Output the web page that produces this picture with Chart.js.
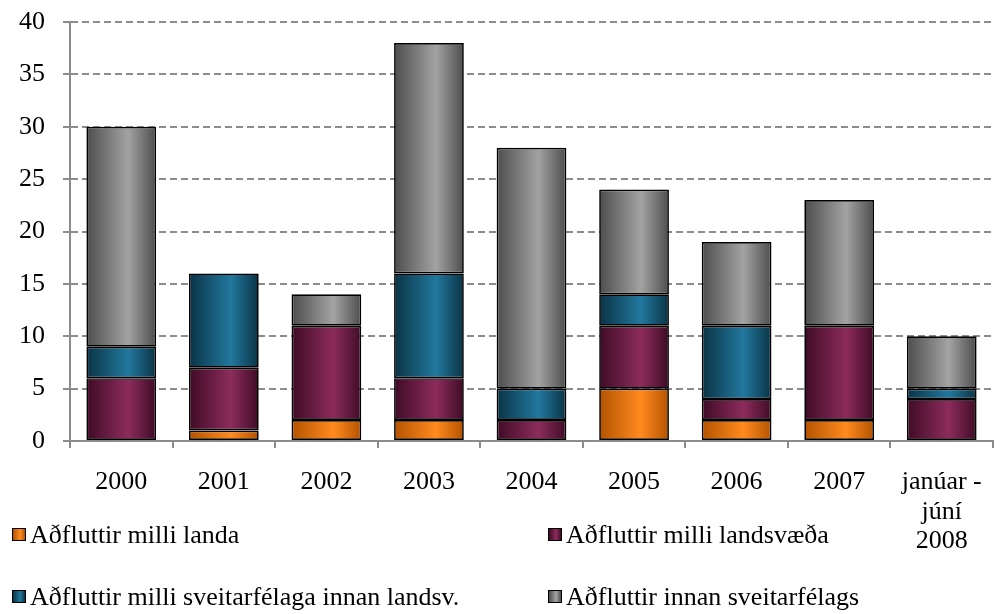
<!DOCTYPE html>
<html>
<head>
<meta charset="utf-8">
<script src="https://cdn.jsdelivr.net/npm/chart.js@4/dist/chart.umd.min.js"></script>
<style>
  html, body { margin: 0; padding: 0; background: #fff; }
  #wrap { position: relative; width: 1003px; height: 614px; font-family: "Liberation Serif", "Times New Roman", serif; }
  canvas { position: absolute; left: 0; top: 0; }
  .leg { position: absolute; font-size: 26px; color: #000; white-space: nowrap; line-height: 30px; height: 30px; display: flex; align-items: center; }
  .leg i { display: inline-block; width: 12px; height: 11px; border: 1.5px solid #000; margin-right: 4px; margin-top: -2px; }
</style>
</head>
<body>
<div id="wrap">
  <canvas id="c" width="1003" height="614"></canvas>
</div>
<script>
// values
const categories = ["2000", "2001", "2002", "2003", "2004", "2005", "2006", "2007", ["janúar -", "júní", "2008"]];
const milliLanda = [0, 1, 2, 2, 0, 5, 2, 2, 0];
const milliLandsvaeda = [6, 6, 9, 4, 2, 6, 2, 9, 4];
const milliSveitarfelaga = [3, 9, 0, 10, 3, 3, 7, 0, 1];
const innanSveitarfelags = [21, 0, 3, 22, 23, 10, 8, 12, 5];
const yTicks = [0, 5, 10, 15, 20, 25, 30, 35, 40];

const seriesNames = [
  "Aðfluttir milli landa",
  "Aðfluttir milli landsvæða",
  "Aðfluttir milli sveitarfélaga innan landsv.",
  "Aðfluttir innan sveitarfélags",
];
// [edge, centre] shades for the cylinder-ish bar shading
const shades = [
  ["#b35300", "#ff8a1f"],
  ["#3f0b26", "#8c2c5c"],
  ["#0a3345", "#22789e"],
  ["#4d4d4d", "#a3a3a3"],
];

const FONT = "'Liberation Serif', 'Times New Roman', serif";
const BAR_PCT = 0.68;

function shade(idx) {
  return (ctx) => {
    const [dark, light] = shades[idx];
    const xs = ctx.chart.scales.x;
    if (!xs || ctx.type !== "data" || !xs.width) return light;
    const w = xs.width / categories.length * BAR_PCT;
    const cx = xs.getPixelForValue(ctx.dataIndex);
    const g = ctx.chart.ctx.createLinearGradient(cx - w / 2, 0, cx + w / 2, 0);
    g.addColorStop(0, dark);
    g.addColorStop(0.6, light);
    g.addColorStop(1, dark);
    return g;
  };
}

const values = [milliLanda, milliLandsvaeda, milliSveitarfelaga, innanSveitarfelags];

new Chart(document.getElementById("c"), {
  type: "bar",
  data: {
    labels: categories,
    datasets: values.map((v, i) => ({
      label: seriesNames[i],
      data: v,
      backgroundColor: shade(i),
      borderColor: "#000",
      borderWidth: 1.7,
      borderSkipped: false,
      barPercentage: BAR_PCT,
      categoryPercentage: 1,
    })),
  },
  options: {
    responsive: false,
    animation: false,
    layout: { padding: { top: 22, right: 10, left: 0, bottom: 0 } },
    plugins: { legend: { display: false }, tooltip: { enabled: false } },
    scales: {
      x: {
        stacked: true,
        afterFit: (s) => { s.height = 173; s.paddingLeft = 0; s.paddingRight = 0; },
        grid: { display: true, drawOnChartArea: false, offset: true, color: "#8c8c8c", lineWidth: 2, tickLength: 7 },
        border: { display: true, color: "#8c8c8c", width: 2 },
        ticks: { color: "#000", font: { family: FONT, size: 26, lineHeight: 1.12 }, padding: 20, maxRotation: 0, autoSkip: false },
      },
      y: {
        stacked: true,
        min: 0,
        max: 40,
        afterFit: (s) => { s.width = 70; s.paddingTop = 0; s.paddingBottom = 0; },
        afterBuildTicks: (s) => { s.ticks = yTicks.map((v) => ({ value: v })); },
        grid: { color: "#8c8c8c", lineWidth: 2, tickLength: 7 },
        border: { display: true, color: "#8c8c8c", width: 2, dash: [7, 4] },
        ticks: { color: "#000", font: { family: FONT, size: 26 }, padding: 18 },
      },
    },
  },
});

// legend in two columns under the chart, like the reference
const legendPos = [[12, 520], [548, 520], [12, 582], [548, 582]];
const wrap = document.getElementById("wrap");
seriesNames.forEach((name, i) => {
  const d = document.createElement("div");
  d.className = "leg";
  d.style.left = legendPos[i][0] + "px";
  d.style.top = legendPos[i][1] + "px";
  const sw = document.createElement("i");
  sw.style.background = `linear-gradient(to right, ${shades[i][0]}, ${shades[i][1]} 60%, ${shades[i][0]})`;
  d.appendChild(sw);
  d.appendChild(document.createTextNode(name));
  wrap.appendChild(d);
});
</script>
</body>
</html>
